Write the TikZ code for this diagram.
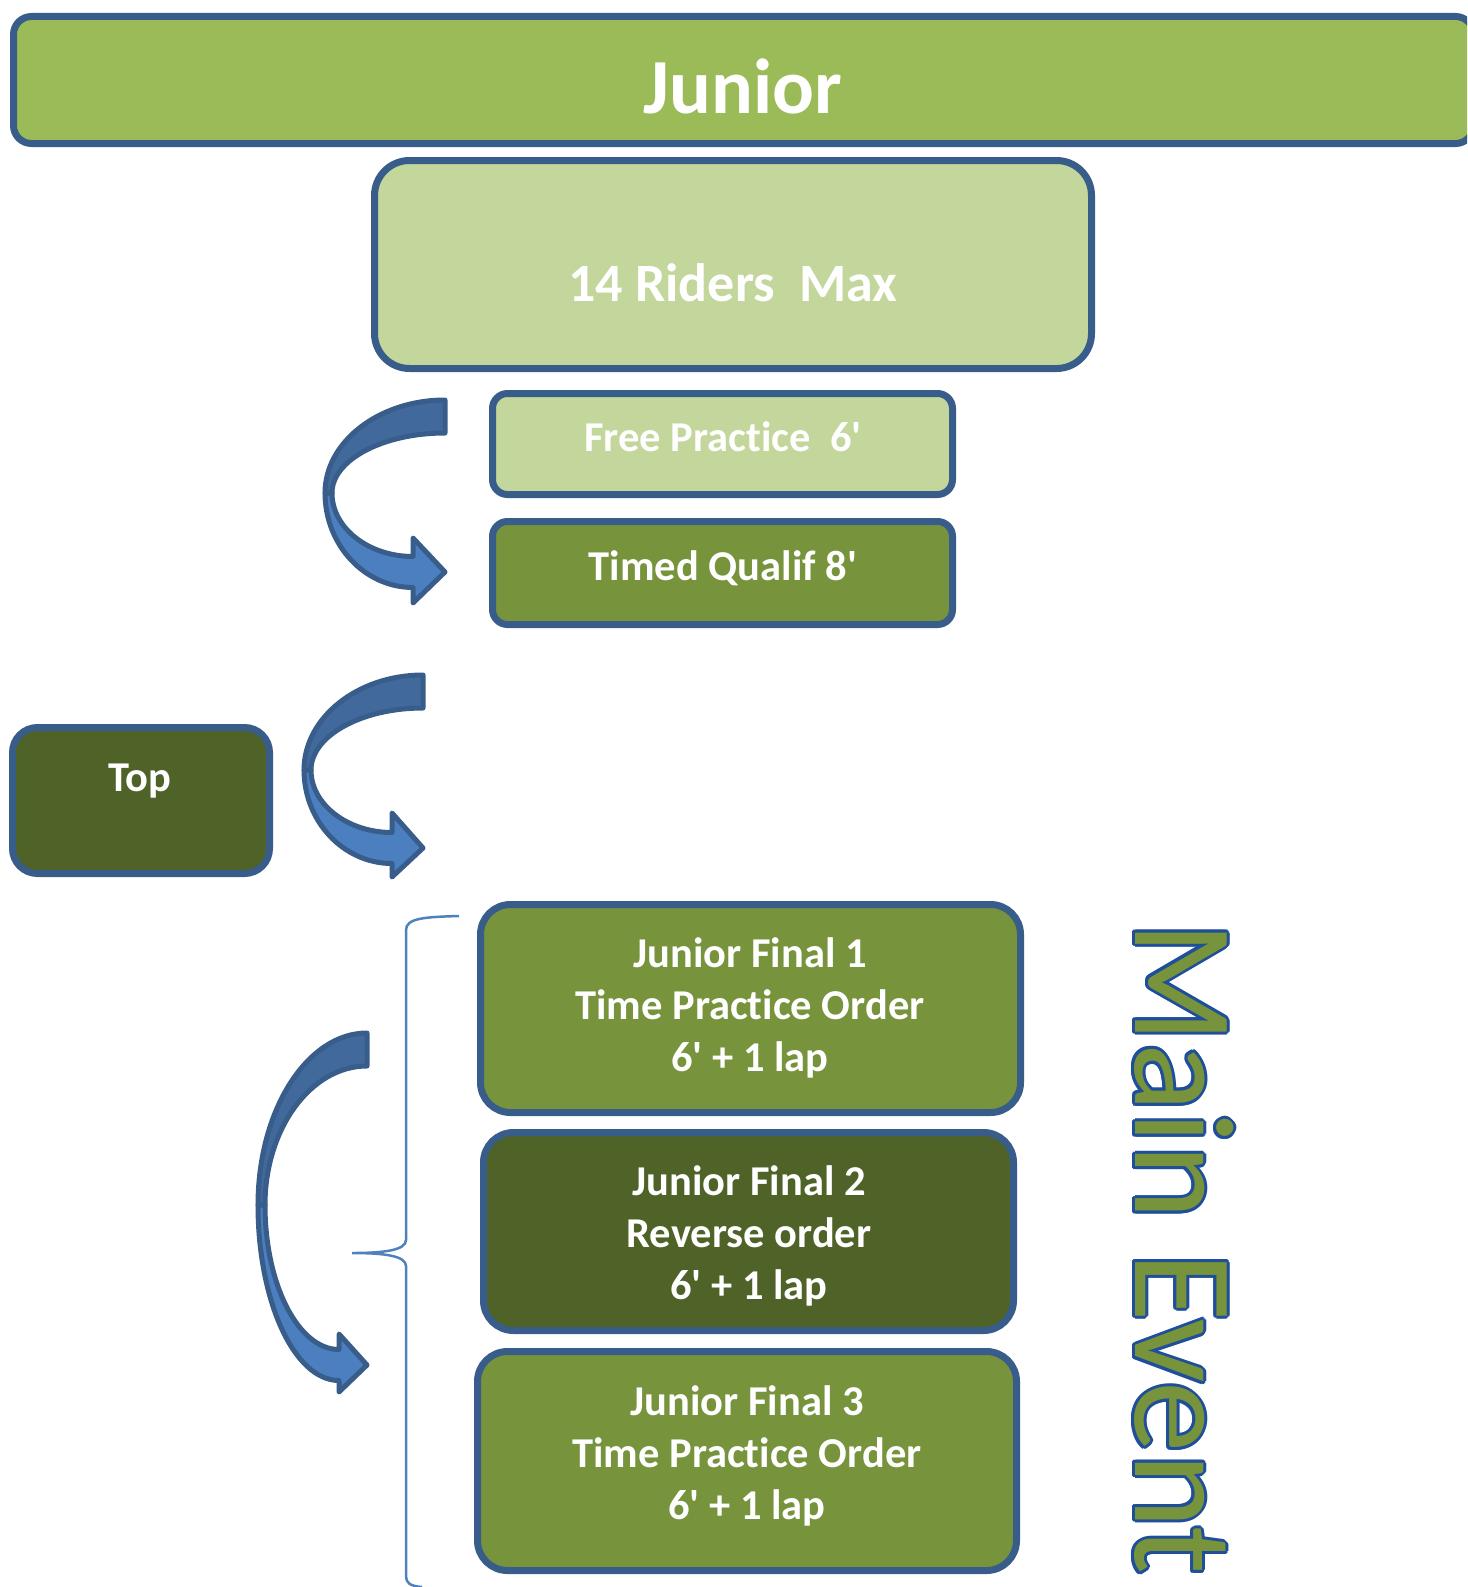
\documentclass[tikz,border=0pt]{standalone}
\usepackage{fontspec}
\setmainfont{Carlito}
\newfontfamily\carl{Carlito}[Ligatures=NoCommon]
\definecolor{bordblue}{HTML}{385D8A}
\definecolor{jrolive}{HTML}{9BBB59}
\definecolor{jrlight}{HTML}{C3D69B}
\definecolor{jrmid}{HTML}{77933C}
\definecolor{jrdark}{HTML}{4F6228}
\definecolor{arrup}{HTML}{41699B}
\definecolor{arrlow}{HTML}{4C7FBF}
\definecolor{bracecol}{HTML}{4F81BD}
\definecolor{outlineblue}{HTML}{1F4E9A}
\tikzset{
  box/.style={draw=bordblue, line width=7pt, rectangle, inner sep=0pt},
  txt/.style={text=white, font=\carl\bfseries\fontsize{42.5}{52}\selectfont, inner sep=0pt, align=center},
  arrowline/.style={draw=bordblue, line width=5pt, line join=round},
  mev/.style={rotate=-90, anchor=base west, inner sep=0pt, font=\carl\fontsize{143}{143}\selectfont},
}
% #1 R, #2 L, #3 T, #4 M, #5 Hx, #6 Y, #7 head top, #8 head bottom, #9 tip x
\newcommand\bentarrow[9]{%
  \filldraw[arrowline, fill=arrup] (#1,#3) .. controls ({#1-0.55*(#1-#2)},#3) and (#2,{#4-0.55*(#4-#3)}) .. (#2,#4)
    -- ({#2+7},#4) .. controls ({#2+7},{#4-0.55*(#4-#3-33)}) and ({#1-0.55*(#1-#2-7)},{#3+33}) .. (#1,{#3+33}) -- cycle;
  \filldraw[arrowline, fill=arrlow] (#2,#4) .. controls (#2,{#4+0.55*(#6+15.5-#4)}) and ({#5-0.55*(#5-#2)},{#6+15.5}) .. (#5,{#6+15.5})
    -- (#5,#8) -- (#9,#6) -- (#5,#7) -- (#5,{#6-15.5})
    .. controls ({#5-0.55*(#5-#2-7)},{#6-15.5}) and ({#2+7},{#4+0.55*(#6-15.5-#4)}) .. ({#2+7},#4) -- cycle;
}
\begin{document}
\begin{tikzpicture}[x=1pt,y=-1pt]
\useasboundingbox (0,0) rectangle (1467,1587);
\clip (0,0) rectangle (1467,1587);

% boxes
\node[box, fill=jrolive, rounded corners=18pt, minimum width=1460pt, minimum height=127pt] (junior) at (743.5,80) {};
\node[box, fill=jrlight, rounded corners=35pt, minimum width=717pt, minimum height=208pt] (riders) at (733,264.5) {};
\node[box, fill=jrlight, rounded corners=15pt, minimum width=460pt, minimum height=101pt] (free) at (722.5,444) {};
\node[box, fill=jrmid, rounded corners=15pt, minimum width=460pt, minimum height=103pt] (timed) at (722.5,573) {};
\node[box, fill=jrdark, rounded corners=25pt, minimum width=257pt, minimum height=146pt] (top) at (141,800.5) {};
\node[box, fill=jrmid, rounded corners=30pt, minimum width=540pt, minimum height=208pt] (fin1) at (750.5,1008.5) {};
\node[box, fill=jrdark, rounded corners=30pt, minimum width=530pt, minimum height=198pt] (fin2) at (748.5,1231.5) {};
\node[box, fill=jrmid, rounded corners=30pt, minimum width=539pt, minimum height=219pt] (fin3) at (747,1461) {};

% texts
\node[txt, font=\carl\bfseries\fontsize{78}{90}\selectfont] (juniort) at (743,86) {Junior};
\node[txt, font=\carl\bfseries\fontsize{54}{60}\selectfont] (riderst) at (733,283) {14 Riders\ \ Max};
\node[txt] (freet) at (723,437) {Free Practice\ \ 6'};
\node[txt] (timedt) at (723,568) {Timed Qualif 8'};
\node[txt] (topt) at (140,781) {Top};
\node[txt] (fin1t) at (750,1008) {Junior Final 1\\Time Practice Order\\6' + 1 lap};
\node[txt] (fin2t) at (749,1236) {Junior Final 2\\Reverse order\\6' + 1 lap};
\node[txt] (fin3t) at (747,1456) {Junior Final 3\\Time Practice Order\\6' + 1 lap};

% curved arrows
\bentarrow{445}{325}{400}{493}{413}{572}{538}{603}{445}
\bentarrow{423}{304}{675}{770}{392}{848}{813}{877}{423}
\bentarrow{367}{258}{1033}{1205}{339}{1365}{1334}{1392}{367}

% brace
\draw[bracecol, line width=2.5pt] (459,916) .. controls (425,917) and (406,918) .. (406,930) -- (406,1240)
  .. controls (406,1250) and (385,1253) .. (352,1253)
  .. controls (385,1253) and (406,1256) .. (406,1266) -- (406,1576)
  .. controls (406,1583) and (410,1586) .. (422,1587);

% Main Event
\foreach \a in {0,30,...,330} {
  \node[mev, text=outlineblue] (me\a) at ([shift={(\a:3)}]1135,921) {Main Event};
}
\node[mev, text=jrmid] (mainevent) at (1135,921) {Main Event};
\end{tikzpicture}
\end{document}
